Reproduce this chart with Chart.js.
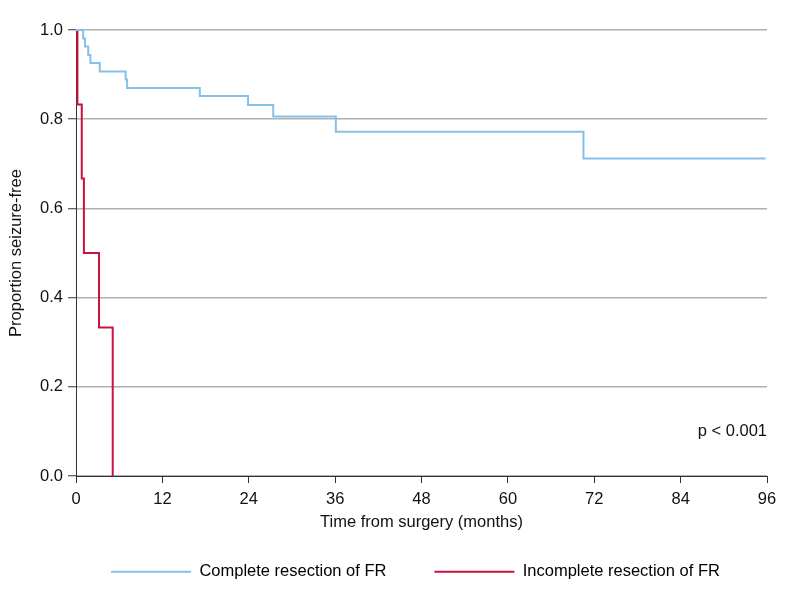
<!DOCTYPE html>
<html>
<head>
<meta charset="utf-8">
<script src="https://cdn.jsdelivr.net/npm/chart.js@4.4.0/dist/chart.umd.min.js"></script>
<style>
  html, body { margin: 0; padding: 0; background: #fff; }
  #wrap { width: 800px; height: 608px; }
</style>
</head>
<body>
<div id="wrap"><canvas id="km"></canvas></div>
<script>
// Kaplan-Meier steps (months after surgery, proportion seizure-free)
const completeMonths = [0, 1.0, 1.25, 1.7, 2.0, 3.3, 6.9, 7.1, 17.2, 23.9, 27.4, 36.1, 70.5, 95.8];
const completeSurv = [1, 0.981, 0.963, 0.944, 0.926, 0.907, 0.889, 0.870, 0.852, 0.832, 0.806, 0.772, 0.712, 0.712];
const incompleteMonths = [0, 0.2, 0.8, 1.1, 3.2, 5.1];
const incompleteSurv = [1, 0.833, 0.667, 0.5, 0.333, 0];

const seriesLabels = ["Complete resection of FR", "Incomplete resection of FR"];
const xTicks = [0, 12, 24, 36, 48, 60, 72, 84, 96];
const yTicks = [0, 0.2, 0.4, 0.6, 0.8, 1.0];
const pValueText = "p < 0.001";
const pValuePos = { x: 96, y: 0.1 }; // where the note sits, in data units

const blue = "#86c0e9";
const red = "#c8123f";
const axisColor = "#333333";
const fontSize = 16.5;

Chart.defaults.font.family = "Arial, 'Liberation Sans', sans-serif";
Chart.defaults.font.size = fontSize;
Chart.defaults.color = "#111111";

function toPoints(xs, ys) {
  return xs.map((x, i) => ({ x: x, y: ys[i] }));
}

// p-value note, placed through the scales
const pValuePlugin = {
  id: "pValue",
  afterDraw(chart) {
    const { ctx, scales } = chart;
    ctx.save();
    ctx.font = fontSize + "px Arial, 'Liberation Sans', sans-serif";
    ctx.fillStyle = "#111111";
    ctx.textAlign = "right";
    ctx.textBaseline = "middle";
    ctx.fillText(pValueText, scales.x.getPixelForValue(pValuePos.x), scales.y.getPixelForValue(pValuePos.y));
    ctx.restore();
  }
};

// nudge the legend a bit to sit where it is in the original figure
const legendNudge = {
  id: "legendNudge",
  afterLayout(chart) {
    const lg = chart.legend;
    if (!lg) return;
    lg.left += 32; lg.right += 32;
    lg.top -= 18; lg.bottom -= 18;
  }
};

new Chart(document.getElementById("km"), {
  type: "line",
  data: {
    datasets: [
      {
        label: seriesLabels[0],
        data: toPoints(completeMonths, completeSurv),
        borderColor: blue,
        backgroundColor: blue,
        borderWidth: 2,
        stepped: "before",
        pointRadius: 0,
        clip: 4
      },
      {
        label: seriesLabels[1],
        data: toPoints(incompleteMonths, incompleteSurv),
        borderColor: red,
        backgroundColor: red,
        borderWidth: 2,
        stepped: "before",
        pointRadius: 0,
        clip: 4
      }
    ]
  },
  options: {
    responsive: true,
    maintainAspectRatio: false,
    animation: false,
    devicePixelRatio: 1,
    layout: { padding: { top: 30, right: 33, bottom: 0, left: 0 } },
    plugins: {
      tooltip: { enabled: false },
      legend: {
        position: "bottom",
        labels: {
          boxWidth: 80,
          boxHeight: 2,
          padding: 48,
          font: { size: fontSize },
          generateLabels(chart) {
            return chart.data.datasets.map((ds, i) => ({
              text: ds.label,
              fillStyle: ds.borderColor,
              strokeStyle: ds.borderColor,
              lineWidth: 0,
              hidden: false,
              datasetIndex: i
            }));
          }
        }
      }
    },
    scales: {
      x: {
        type: "linear",
        min: 0,
        max: 96,
        afterBuildTicks(s) { s.ticks = xTicks.map(v => ({ value: v })); },
        afterFit(s) { s.height = 57.5; },
        grid: { drawOnChartArea: false, tickLength: 7, tickColor: axisColor },
        border: { display: true, color: axisColor, width: 1 },
        ticks: { padding: 7, maxRotation: 0, autoSkip: false, font: { size: fontSize } },
        title: { display: true, text: "Time from surgery (months)", font: { size: fontSize }, padding: { top: 0, bottom: 1 } }
      },
      y: {
        type: "linear",
        min: 0,
        max: 1,
        afterBuildTicks(s) { s.ticks = yTicks.map(v => ({ value: v })); },
        afterFit(s) { s.width = 76; },
        grid: { color: "#b0b0b0", lineWidth: 1.5, tickLength: 8, tickColor: axisColor, tickWidth: 1 },
        border: { display: true, color: axisColor, width: 1 },
        ticks: { padding: 5, font: { size: fontSize }, callback: v => v.toFixed(1) },
        title: { display: true, text: "Proportion seizure-free", font: { size: fontSize }, padding: { top: 7, bottom: 0 } }
      }
    }
  },
  plugins: [pValuePlugin, legendNudge]
});
</script>
</body>
</html>
